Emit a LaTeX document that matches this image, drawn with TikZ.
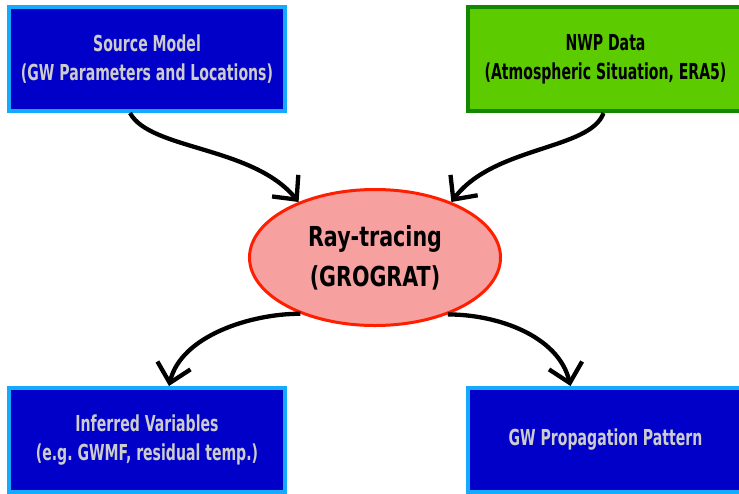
\documentclass[tikz,border=0pt]{standalone}
\usepackage{fontspec}
\newfontfamily\boxfont[FakeStretch=0.64]{DejaVu Sans}
\newfontfamily\rayfont[FakeStretch=0.75]{DejaVu Sans}
\definecolor{boxBlue}{RGB}{0,0,200}
\definecolor{edgeBlue}{RGB}{20,170,255}
\definecolor{boxGreen}{RGB}{92,204,0}
\definecolor{edgeGreen}{RGB}{20,135,0}
\definecolor{rayPink}{RGB}{246,160,160}
\definecolor{rayRed}{RGB}{255,30,0}
\definecolor{labelGray}{RGB}{204,204,204}
\usetikzlibrary{shapes,arrows.meta,calc}

\begin{document}
\begin{tikzpicture}[x=1pt,y=1pt,
    box/.style={draw, line width=4pt, minimum width=276pt, minimum height=104pt,
      inner sep=0pt, align=center, font=\boxfont\bfseries\fontsize{22}{29}\selectfont},
    bluebox/.style={box, draw=edgeBlue, fill=boxBlue, text=labelGray},
    greenbox/.style={box, draw=edgeGreen, fill=boxGreen, text=black},
    flow/.style={line width=4.3pt, -{Straight Barb[length=18pt,width=34pt]}}]
  \useasboundingbox (0,0) rectangle (739,-493);
  % Inputs
  \node (src) [bluebox] at (147,-59) {Source Model\\(GW Parameters and Locations)};
  \node (nwp) [greenbox] at (605.5,-59) {NWP Data\\(Atmospheric Situation, ERA5)};
  % Ray-tracer
  \node (ray) [ellipse, draw=rayRed, line width=3pt, fill=rayPink,
    minimum width=251pt, minimum height=136pt, inner sep=0pt, align=center,
    font=\rayfont\bfseries\fontsize{27.5}{40}\selectfont] at (375,-257.5) {Ray-tracing\\(GROGRAT)};
  % Outputs
  \node (inf) [bluebox] at (147,-440) {Inferred Variables\\(e.g.\ GWMF, residual temp.)};
  \node (prop) [bluebox] at (605.5,-440) {GW Propagation Pattern};
  % Arrows
  \draw[flow] ([xshift=-17pt]src.south) .. controls +(20,-37) and +(-46,56) .. (ray.144);
  \draw[flow] ([xshift=-2pt]nwp.south) .. controls +(-13,-37) and +(42,56) .. (ray.36);
  \draw[flow] (ray.217) .. controls +(-50,0) and +(12,50) .. ([xshift=22pt]inf.north);
  \draw[flow] (ray.322) .. controls +(50,0) and +(-12,50) .. ([xshift=-35pt]prop.north);
\end{tikzpicture}
\end{document}
